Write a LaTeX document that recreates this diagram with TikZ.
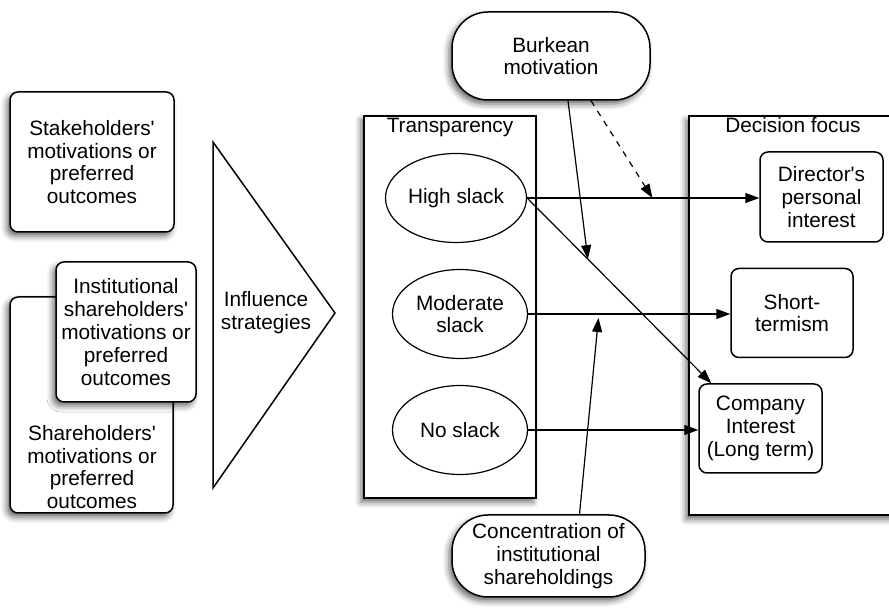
\documentclass[tikz,border=0pt]{standalone}
\usepackage{fontspec}
\setmainfont{Liberation Sans}
\usetikzlibrary{positioning, arrows.meta, shapes.geometric, shadows.blur}

\tikzset{
  shadowed/.style={blur shadow={shadow xshift=-1.5pt, shadow yshift=-2pt, shadow blur radius=3pt, shadow opacity=60}},
  card/.style={draw, line width=0.75pt, fill=white, rounded corners=4pt, inner sep=0pt, align=center},
  frame/.style={draw, line width=0.75pt, fill=white, inner sep=0pt},
  slack/.style={draw, ellipse, line width=0.6pt, fill=white, inner sep=0pt, align=center},
  pill/.style={draw, line width=0.75pt, fill=white, rounded corners=18pt, inner sep=0pt, align=center},
  link/.style={line width=0.6pt, -{Triangle[length=7pt, width=5pt]}}
}

\begin{document}
\begin{tikzpicture}[x=0.5pt, y=-0.5pt, font=\fontsize{10.4}{11.4}\selectfont]
        \useasboundingbox (0,0) rectangle (889,608);
        % left column
        \node[card, shadowed, minimum width=82pt, minimum height=70pt] (stake) at (92,162) {Stakeholders\textquotesingle\\motivations or\\preferred\\outcomes};
        \node[card, shadowed, minimum width=81.5pt, minimum height=108pt] (share) at (91.5,405) {};
        \node[align=center] (sharetext) at (92,467) {Shareholders\textquotesingle\\motivations or\\preferred\\outcomes};
        \node[card, shadowed, minimum width=70pt, minimum height=70pt] (inst) at (126,332) {Institutional\\shareholders\textquotesingle\\motivations or\\preferred\\outcomes};
        \draw[line width=0.75pt, fill=white] (213,142) -- (335,313) -- (213,488) -- cycle;
        \node[align=center] (infl) at (266,313) {Influence\\strategies};
        % transparency
        \node[frame, shadowed, minimum width=86pt, minimum height=191pt] (trans) at (450,307) {};
        \node[anchor=base] (transtitle) at (450,133) {Transparency};
        \node[slack, minimum width=70.5pt, minimum height=44.5pt] (high) at (456,198) {High slack};
        \node[slack, minimum width=67.5pt, minimum height=44.5pt] (mod) at (460,314) {Moderate\\slack};
        \node[slack, minimum width=67.5pt, minimum height=44.5pt] (noslack) at (460,430) {No slack};
        % decision focus
        \node[frame, shadowed, minimum width=103pt, minimum height=199.5pt] (decision) at (792,315.75) {};
        \node[anchor=base] (dectitle) at (793,133) {Decision focus};
        \node[card, minimum width=61.5pt, minimum height=45pt] (dir) at (821.5,197) {Director\textquotesingle s\\personal\\interest};
        \node[card, minimum width=61pt, minimum height=44.5pt] (short) at (792,313) {Short-\\termism};
        \node[card, minimum width=61.5pt, minimum height=44.5pt] (comp) at (760.5,428.5) {Company\\Interest\\(Long term)};
        % moderators
        \node[pill, shadowed, minimum width=99pt, minimum height=44pt] (burke) at (551,56) {Burkean\\motivation};
        \node[pill, shadowed, minimum width=96.5pt, minimum height=41pt] (conc) at (548.5,556) {Concentration of\\institutional\\shareholdings};
        % connectors
        \draw[link] (high.east) -- (high.east -| dir.west) coordinate[pos=0.54] (dhit);
        \draw[link] (mod.east) -- (mod.east -| short.west) coordinate[pos=0.35] (chit);
        \draw[link] (noslack.east) -- (noslack.east -| comp.west);
        \draw[link] (high.east) -- ([xshift=6.5pt]comp.north west) coordinate[pos=0.33] (bhit);
        \draw[link] ([xshift=8.5pt]burke.south) -- (bhit);
        \draw[link, dashed] ([xshift=20pt]burke.south) -- (dhit);
        \draw[link, shorten >=2pt] ([xshift=15.5pt]conc.north) -- (chit);
\end{tikzpicture}
\end{document}
